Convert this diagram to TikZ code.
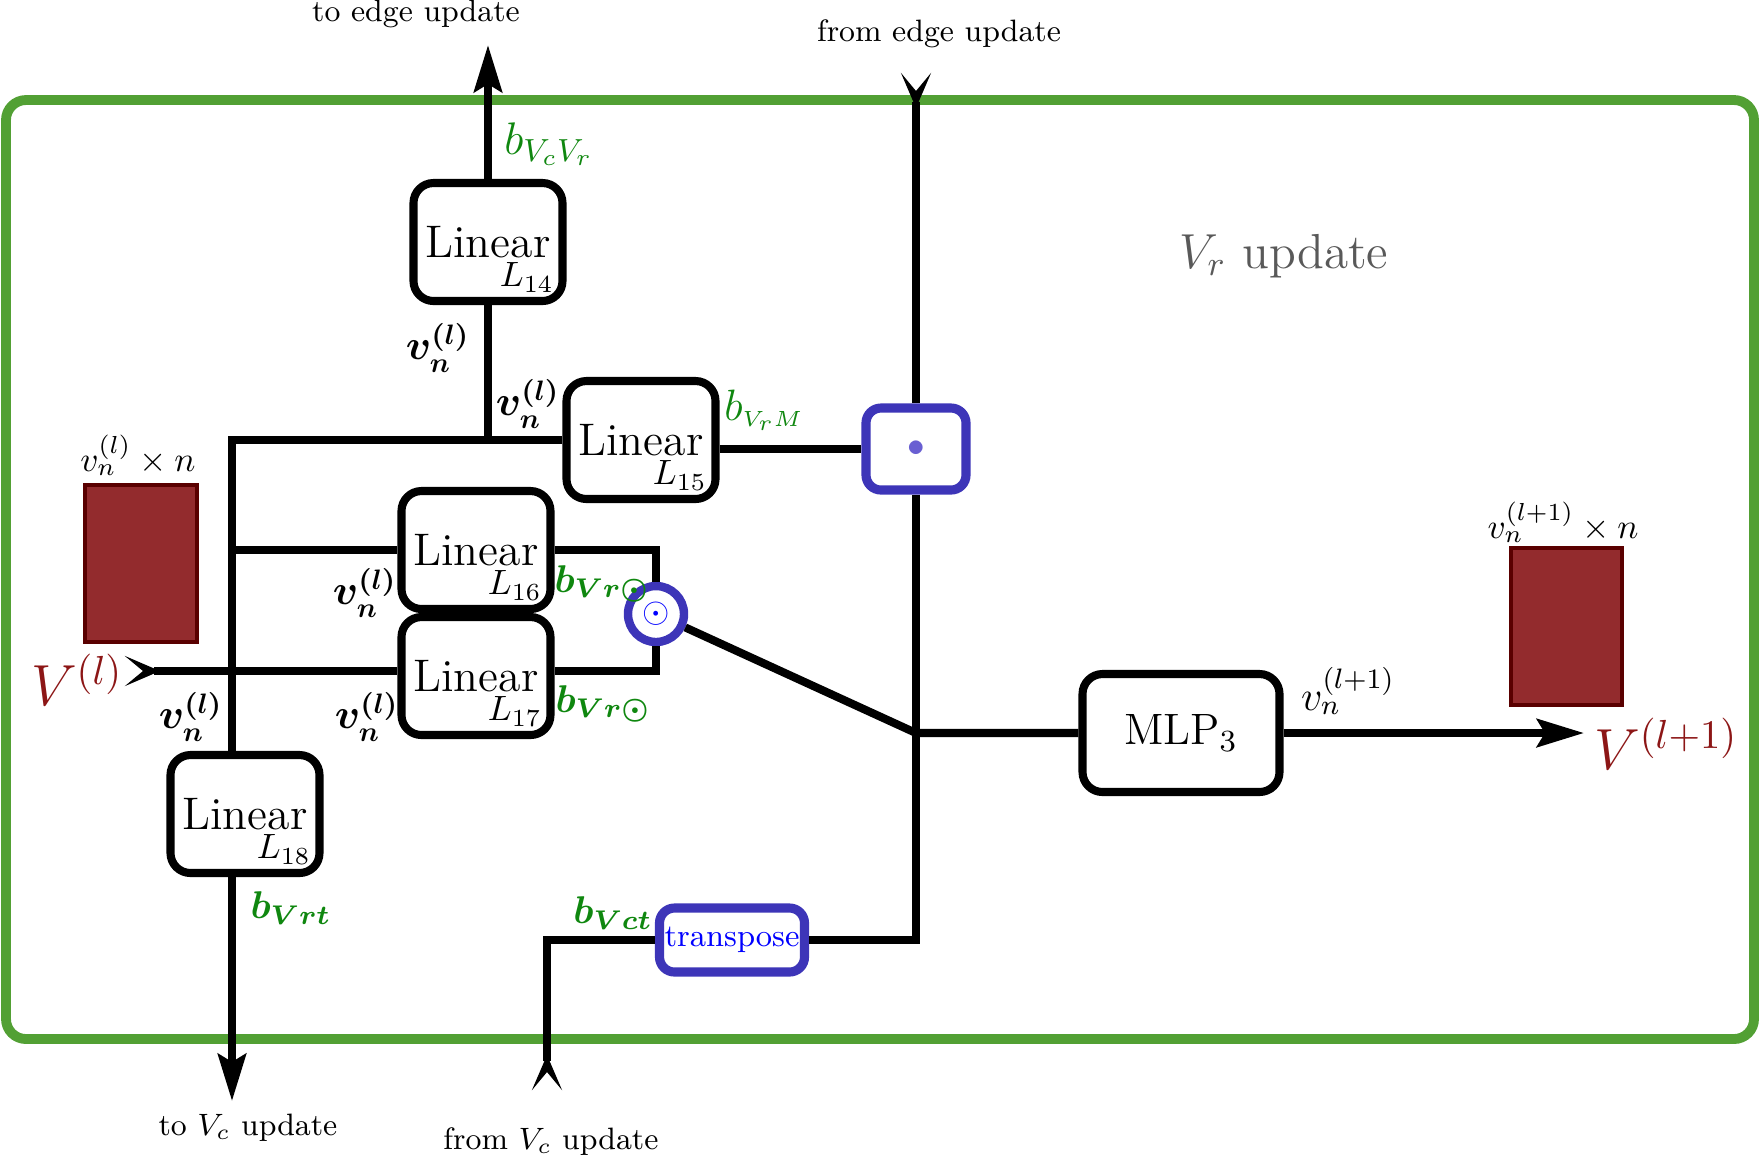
\documentclass[tikz,border=0pt]{standalone}
\usepackage{fix-cm}
\usepackage{amsmath,amssymb}
\usetikzlibrary{arrows.meta}

\definecolor{framegreen}{RGB}{82,160,52}
\definecolor{biasgreen}{RGB}{15,135,15}
\definecolor{opblue}{RGB}{61,53,184}
\definecolor{dotblue}{RGB}{105,95,210}
\definecolor{tensorfill}{RGB}{147,43,45}
\definecolor{tensorline}{RGB}{90,0,0}
\definecolor{tensorred}{RGB}{140,22,22}

\begin{document}
\begin{tikzpicture}
    \tikzstyle{lin}=[draw, fill=white, rounded corners=0.2cm, line width=2.3pt, minimum width=1.49cm, minimum height=1.18cm, font=\fontsize{13}{15}\selectfont]
    \tikzstyle{sub}=[anchor=south east, inner sep=3.5pt, font=\fontsize{10}{12}\selectfont]
    \tikzstyle{op}=[draw=opblue, fill=white, line width=2.6pt, rounded corners=0.15cm, inner sep=1pt]
    \tikzstyle{wire}=[line width=2.3pt]
    \tikzstyle{inarrow}=[wire, {Stealth[reversed, length=3.5mm, width=3mm, inset=1.8mm]}-]
    \tikzstyle{outarrow}=[wire, -{Stealth[length=4.7mm, width=2.8mm, inset=0.8mm]}]
    \tikzstyle{vec}=[font=\large, inner sep=0.5pt]
    \tikzstyle{bias}=[text=biasgreen, inner sep=0.5pt, font=\fontsize{11}{14}\selectfont]
    \tikzstyle{note}=[font=\fontsize{8.8}{11}\selectfont]
    \tikzstyle{big}=[text=tensorred, inner sep=0.5pt, font=\fontsize{16.5}{20}\selectfont]
    \tikzstyle{tensor}=[fill=tensorfill, draw=tensorline, line width=1pt]

    \useasboundingbox (0,0) rectangle (17.61,-11.59);
    \draw[framegreen, line width=2.8pt, rounded corners=0.2cm] (0.06,-1.0) rectangle (17.54,-10.39);

    % blocks
    \node[lin, label={[sub]south east:$L_{14}$}] (l14) at (4.88,-2.42) {Linear};
    \node[lin, label={[sub]south east:$L_{15}$}] (l15) at (6.41,-4.40) {Linear};
    \node[lin, label={[sub]south east:$L_{16}$}] (l16) at (4.76,-5.50) {Linear};
    \node[lin, label={[sub]south east:$L_{17}$}] (l17) at (4.76,-6.76) {Linear};
    \node[lin, label={[sub]south east:$L_{18}$}] (l18) at (2.45,-8.14) {Linear};
    \node[lin, minimum width=1.97cm, font=\fontsize{12.5}{15}\selectfont] (mlp) at (11.81,-7.33) {MLP$_3$};
    \node[op, minimum width=1.0cm, minimum height=0.82cm] (had) at (9.16,-4.49) {\textcolor{dotblue}{$\bullet$}};
    \node[op, circle, minimum size=0.56cm, inner sep=0pt, line width=2.4pt] (odot) at (6.56,-6.14) {\textcolor{blue}{$\odot$}};
    \node[op, minimum width=1.45cm, minimum height=0.64cm, font=\fontsize{9}{11}\selectfont, text=blue] (tr) at (7.32,-9.40) {transpose};

    \draw[tensor] (0.85,-4.85) rectangle (1.97,-6.42);
    \draw[tensor] (15.11,-5.48) rectangle (16.22,-7.05);

    % wires
    \coordinate (top) at (2.32,-4.40);
    \coordinate (vin) at (1.25,-6.71);
    \coordinate (jn) at (9.16,-7.33);
    \coordinate (toedge) at (4.88,-0.45);
    \coordinate (fromedge) at (9.16,-0.73);
    \coordinate (tovc) at (2.32,-11.01);
    \coordinate (fromvc) at (5.47,-10.90);
    \coordinate (vout) at (15.84,-7.33);

    \draw[outarrow] (l14.north) -- (toedge);
    \draw[wire] (l14.south) -- (l14.south |- top);
    \draw[wire] (l15.west) -- (top) -- (top |- l18.north);
    \draw[wire] (top |- l16.west) -- (l16.west);
    \draw[inarrow] (vin) -- (vin -| l17.west);
    \draw[wire] (l16.east) -| (odot.north);
    \draw[wire] (l17.east |- vin) -| (odot.south);
    \draw[wire] (l15.east |- had.west) -- (had.west);
    \draw[inarrow] (fromedge) -- (had.north);
    \draw[wire] (tr.east) -| (had.south);
    \draw[wire] (odot) -- (jn) -- (mlp.west);
    \draw[inarrow] (fromvc) |- (tr.west);
    \draw[outarrow] (top |- l18.south) -- (tovc);
    \draw[outarrow] (mlp.east) -- (vout);

    % labels
    \node[bias, font=\fontsize{13}{15}\selectfont] (bvcvr) at (5.49,-1.44) {$b_{V_cV_r}$};
    \node[vec] (v1) at (4.38,-3.48) {$\boldsymbol{v_n^{(l)}}$};
    \node[vec] (v2) at (5.28,-4.04) {$\boldsymbol{v_n^{(l)}}$};
    \node[bias, font=\fontsize{12.5}{15}\selectfont] (bvrm) at (7.64,-4.10) {$b_{\scriptscriptstyle V_rM}$};
    \node (vsize) at (1.38,-4.55) {$v_n^{(l)}\times n$};
    \node[vec] (v3) at (3.65,-5.93) {$\boldsymbol{v_n^{(l)}}$};
    \node[bias] (bdot1) at (6.02,-5.84) {$\boldsymbol{b_{Vr\odot}}$};
    \node[big] (vl) at (0.77,-6.80) {$V^{(l)}$};
    \node[vec] (v4) at (1.91,-7.17) {$\boldsymbol{v_n^{(l)}}$};
    \node[vec] (v5) at (3.67,-7.17) {$\boldsymbol{v_n^{(l)}}$};
    \node[bias] (bdot2) at (6.03,-7.04) {$\boldsymbol{b_{Vr\odot}}$};
    \node[bias] (bvrt) at (2.91,-9.08) {$\boldsymbol{b_{Vrt}}$};
    \node[bias] (bvct) at (6.13,-9.13) {$\boldsymbol{b_{Vct}}$};
    \node[font=\large] (vn1) at (13.48,-6.91) {$v_n^{(l+1)}$};
    \node[big] (vl1) at (16.66,-7.44) {$V^{(l+1)}$};
    \node (vsize1) at (15.63,-5.22) {$v_n^{(l+1)}\times n$};
    \node[text=black!65, font=\fontsize{14}{17}\selectfont] (title) at (12.84,-2.56) {$V_r$ update};
    \node[note] (totxt) at (4.16,-0.14) {to edge update};
    \node[note] (fromtxt) at (9.39,-0.34) {from edge update};
    \node[note] (tovctxt) at (2.48,-11.28) {to $V_c$ update};
    \node[note] (fromvctxt) at (5.51,-11.42) {from $V_c$ update};
\end{tikzpicture}
\end{document}
